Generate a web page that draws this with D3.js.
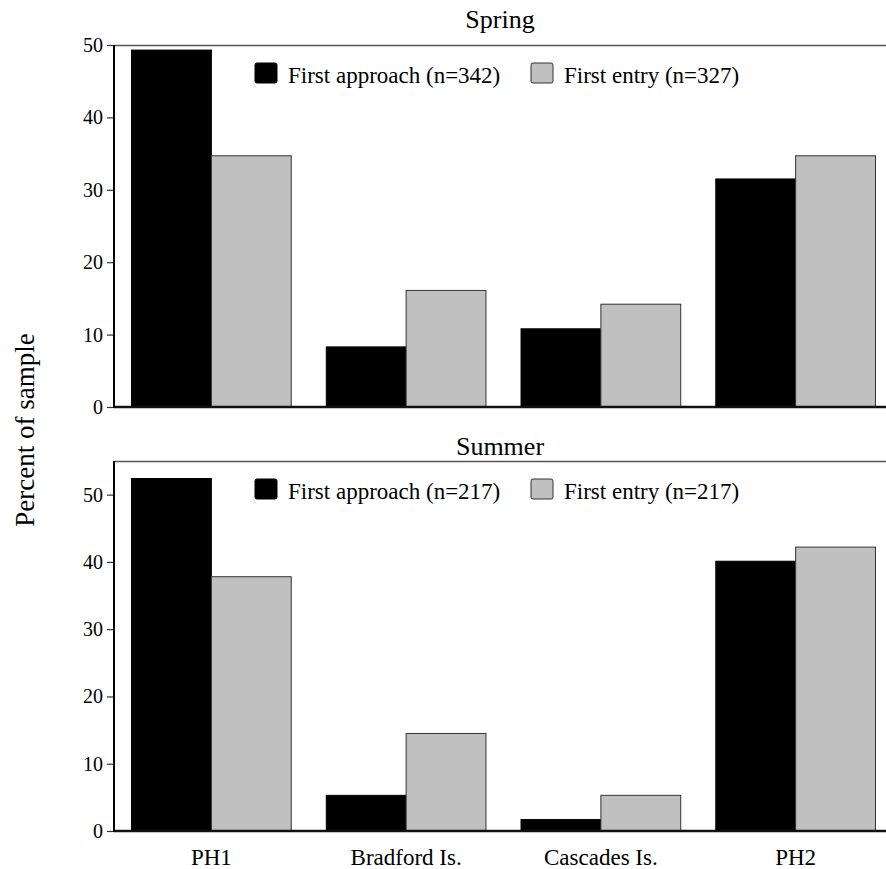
<!DOCTYPE html>
<html>
<head>
<meta charset="utf-8">
<script src="https://cdn.jsdelivr.net/npm/d3@7"></script>
<style>
  body { margin: 0; background: #fff; }
  svg text { font-family: "Liberation Serif", "Times New Roman", serif; fill: #000; }
</style>
</head>
<body>
<div id="chart"></div>
<script>
const categories = ["PH1", "Bradford Is.", "Cascades Is.", "PH2"];
const seriesNames = ["approach", "entry"];

const springApproach = [49.3, 8.3, 10.8, 31.5];
const springEntry = [34.7, 16.1, 14.2, 34.7];
const summerApproach = [52.4, 5.3, 1.7, 40.1];
const summerEntry = [37.8, 14.5, 5.3, 42.2];

const yTicks = [0, 10, 20, 30, 40, 50];

const panels = [
  { title: "Spring", approach: springApproach, entry: springEntry, yMax: 50,
    legend: ["First approach (n=342)", "First entry (n=327)"], top: 45, bottom: 407, titleY: 28 },
  { title: "Summer", approach: summerApproach, entry: summerEntry, yMax: 55,
    legend: ["First approach (n=217)", "First entry (n=217)"], top: 461, bottom: 831, titleY: 455 }
];

const width = 886, height = 869;
const left = 114, right = 893;
const fills = { approach: "#000", entry: "#c0c0c0" };
const strokes = { approach: "#000", entry: "#333" };

const svg = d3.select("#chart").append("svg")
  .attr("width", width)
  .attr("height", height);

const x = d3.scaleBand()
  .domain(categories)
  .range([left, right])
  .paddingInner(0.18)
  .paddingOuter(0.09);

const xSub = d3.scaleBand()
  .domain(seriesNames)
  .range([0, x.bandwidth()]);

panels.forEach(p => {
  const y = d3.scaleLinear().domain([0, p.yMax]).range([p.bottom, p.top]);
  const g = svg.append("g");

  // top frame line
  g.append("line")
    .attr("x1", left).attr("x2", width)
    .attr("y1", p.top + 0.5).attr("y2", p.top + 0.5)
    .style("stroke", "#555").style("stroke-width", 1.5);

  const rows = categories.map((c, i) => ({ cat: c, approach: p.approach[i], entry: p.entry[i] }));

  g.selectAll(".grp")
    .data(rows)
    .enter().append("g")
    .attr("transform", d => `translate(${x(d.cat)},0)`)
    .selectAll("rect")
    .data(d => seriesNames.map(k => ({ key: k, value: d[k] })))
    .enter().append("rect")
    .attr("x", d => xSub(d.key))
    .attr("width", xSub.bandwidth())
    .attr("y", d => y(d.value))
    .attr("height", d => y(0) - y(d.value))
    .style("fill", d => fills[d.key])
    .style("stroke", d => strokes[d.key])
    .style("stroke-width", 1);

  // baseline
  g.append("line")
    .attr("x1", left).attr("x2", width)
    .attr("y1", p.bottom).attr("y2", p.bottom)
    .style("stroke", "#111").style("stroke-width", 2.5);

  const axis = g.append("g")
    .attr("transform", `translate(${left},0)`)
    .call(d3.axisLeft(y).tickValues(yTicks).tickSize(7).tickPadding(4));
  axis.select(".domain").remove();
  axis.selectAll(".tick line").style("stroke", "#333").style("stroke-width", 1.2);
  axis.selectAll(".tick text")
    .style("font-family", "Liberation Serif, serif")
    .style("font-size", "20px")
    .style("fill", "#000");

  g.append("line")
    .attr("x1", left).attr("x2", left)
    .attr("y1", p.top).attr("y2", p.bottom + 1)
    .style("stroke", "#000").style("stroke-width", 2);

  g.append("text")
    .attr("x", 500)
    .attr("y", p.titleY)
    .attr("text-anchor", "middle")
    .style("font-size", "26px")
    .text(p.title);

  // legend
  const legendX = [255, 531];
  seriesNames.forEach((k, i) => {
    g.append("rect")
      .attr("x", legendX[i])
      .attr("y", p.top + 18)
      .attr("width", 22)
      .attr("height", 20)
      .attr("rx", 2)
      .style("fill", fills[k])
      .style("stroke", strokes[k])
      .style("stroke-width", 1);
    g.append("text")
      .attr("x", legendX[i] + 33)
      .attr("y", p.top + 38)
      .style("font-size", "23px")
      .text(p.legend[i]);
  });
});

// category labels
svg.append("g")
  .selectAll("text")
  .data(categories)
  .enter().append("text")
  .attr("x", d => x(d) + x.bandwidth() / 2)
  .attr("y", 865)
  .attr("text-anchor", "middle")
  .style("font-size", "23px")
  .text(d => d);

svg.append("text")
  .attr("transform", "translate(34,430) rotate(-90)")
  .attr("text-anchor", "middle")
  .style("font-size", "27px")
  .text("Percent of sample");
</script>
</body>
</html>
